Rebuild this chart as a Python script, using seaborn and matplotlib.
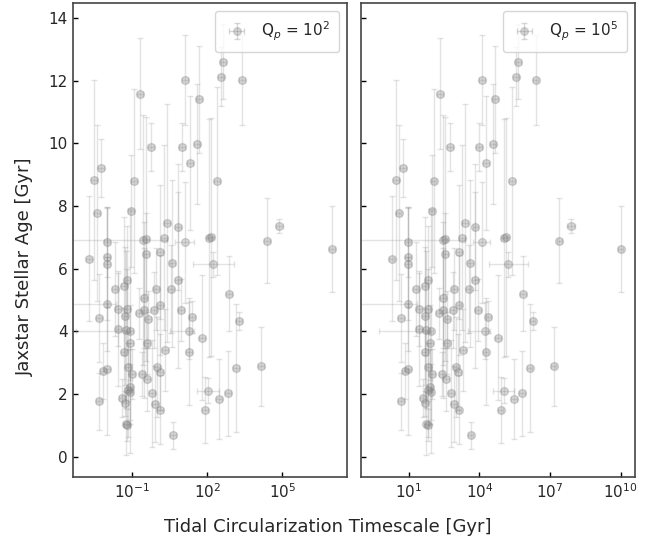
import numpy as np
import pandas as pd
import matplotlib
matplotlib.use("Agg")
import matplotlib.pyplot as plt
from matplotlib.ticker import NullLocator, FixedLocator
import seaborn as sns

# ---------------- data ----------------
panel_labels = [r"Q$_p$ = 10$^2$", r"Q$_p$ = 10$^5$"]

# log10 of tidal circularization timescale [Gyr] for Qp = 1e2
log_tau_q2 = [-2.74, -2.56, -2.44, -2.25, -2.04, -2.04, -2.04, -1.04, -0.95, -0.68,
              -0.57, -0.46, -0.45, -0.26, 0.12, 0.26, 0.38, 0.59, 0.83, 0.98,
              1.09, 1.11, 1.29, 1.58, 1.66, 2.05, 2.13, 2.22, 2.39, 2.54,
              2.64, 3.39, 4.40, 4.89, 7.00, -1.72, -1.32, -1.20, -2.04, -2.34,
              -1.58, -1.31, -1.20, -1.56, -1.27, -1.08, -1.11, -1.33, -1.17, -1.01,
              -2.18, -2.04, -2.34, -1.40, -1.31, -1.10, -1.08, -1.17, -1.26, -1.20,
              -0.72, -0.54, -0.53, -0.36, -0.40, -0.61, -0.42, -0.22, -0.07, -0.12,
              0.11, -0.01, 0.09, -0.09, 0.11, 0.31, 0.54, 0.82, 0.95, 0.62,
              1.25, 1.26, 1.38, 1.79, 1.90, 2.03, 2.48, 2.82, 2.85, 3.13,
              3.26, 4.15]

# log10 of tidal circularization timescale [Gyr] for Qp = 1e5
log_tau_q5 = [0.26, 0.44, 0.56, 0.75, 0.96, 0.96, 0.96, 1.96, 2.05, 2.32,
              2.43, 2.54, 2.55, 2.74, 3.12, 3.26, 3.38, 3.59, 3.83, 3.98,
              4.09, 4.11, 4.29, 4.58, 4.66, 5.05, 5.13, 5.22, 5.39, 5.54,
              5.64, 6.39, 7.40, 7.89, 10.00, 1.28, 1.68, 1.80, 0.96, 0.66,
              1.42, 1.69, 1.80, 1.44, 1.73, 1.92, 1.89, 1.67, 1.83, 1.99,
              0.82, 0.96, 0.66, 1.60, 1.69, 1.90, 1.92, 1.83, 1.74, 1.80,
              2.28, 2.46, 2.47, 2.64, 2.60, 2.39, 2.58, 2.78, 2.93, 2.88,
              3.11, 2.99, 3.09, 2.91, 3.11, 3.31, 3.54, 3.82, 3.95, 3.62,
              4.25, 4.26, 4.38, 4.79, 4.90, 5.03, 5.48, 5.82, 5.85, 6.13,
              6.26, 7.15]

# stellar age [Gyr] and its uncertainty
age = [6.32, 8.83, 7.78, 9.22, 6.85, 6.38, 6.15, 7.84, 8.79, 11.58,
       6.91, 6.94, 6.48, 9.89, 6.52, 6.99, 7.47, 6.17, 7.33, 9.89,
       6.84, 12.02, 9.36, 9.98, 11.41, 6.99, 7.02, 6.14, 8.79, 12.13,
       12.60, 12.02, 6.89, 7.36, 6.64, 5.34, 5.45, 5.65, 4.87, 4.43,
       4.72, 4.50, 4.70, 4.06, 4.05, 4.01, 3.64, 3.35, 2.87, 2.64,
       2.74, 2.80, 1.76, 1.88, 1.70, 2.23, 2.07, 2.12, 1.05, 1.01,
       4.57, 5.07, 4.68, 4.38, 3.63, 2.65, 2.47, 2.02, 5.35, 4.68,
       4.84, 2.85, 2.70, 1.68, 1.50, 3.40, 5.35, 5.64, 4.68, 0.68,
       4.02, 3.35, 4.46, 3.80, 1.48, 2.11, 1.83, 2.02, 5.20, 2.82,
       4.33, 2.88]

age_err = [2.0, 3.2, 2.8, 0.92, 1.12, 1.6, 1.8, 1.8, 2.93, 1.77,
           4.0, 3.9, 1.3, 0.77, 2.14, 2.96, 3.8, 2.66, 2.0, 0.76,
           1.94, 1.44, 2.14, 1.93, 1.71, 3.8, 3.8, 0.4, 3.0, 0.95,
           1.2, 1.43, 1.35, 0.21, 1.37, 1.5, 2.2, 1.7, 1.5, 1.4,
           1.2, 2.2, 1.3, 1.8, 2.5, 3.9, 1.2, 1.4, 1.1, 0.8,
           0.9, 2.1, 0.9, 0.6, 0.4, 1.2, 0.9, 1.5, 1.0, 0.5,
           0.8, 1.6, 2.8, 0.9, 1.0, 0.7, 1.0, 1.7, 1.3, 1.2,
           1.6, 1.6, 1.2, 1.2, 1.1, 1.3, 1.4, 2.8, 1.0, 0.44,
           0.9, 1.7, 0.5, 2.0, 1.06, 0.4, 1.28, 1.36, 1.2, 2.05,
           0.3, 1.27]

# timescale uncertainty (in dex, lower / upper)
tau_err_lo_dex = [0.12] * 92
tau_err_hi_dex = [0.12] * 92
for i, lo, hi in [(10, 12.0, 0.95), (20, 0.38, 0.36), (27, 0.80, 0.83),
                  (33, 0.16, 0.16), (38, 12.0, 0.38), (45, 2.2, 0.10),
                  (80, 0.75, 0.20), (85, 0.45, 0.42)]:
    tau_err_lo_dex[i] = lo
    tau_err_hi_dex[i] = hi

xlims = [(10 ** -3.39, 10 ** 7.59), (10 ** -1.055, 10 ** 10.6)]
xticks = [[1e-1, 1e2, 1e5], [1e1, 1e4, 1e7, 1e10]]

# ---------------- style ----------------
sns.set_style("white")
plt.rcParams["font.family"] = ["DejaVu Sans"]
plt.rcParams["mathtext.fontset"] = "dejavusans"

fig, axes = plt.subplots(1, 2, figsize=(6.56, 5.45), dpi=100, sharey=True)
fig.subplots_adjust(left=0.111, right=0.9675, top=0.9945, bottom=0.1248, wspace=0.05)

mcol = "gray"
for ax, logtau, lab, xl, xt in zip(axes, [log_tau_q2, log_tau_q5], panel_labels, xlims, xticks):
    lt = np.array(logtau)
    tau = 10 ** lt
    lo = tau - 10 ** (lt - np.array(tau_err_lo_dex))
    hi = 10 ** (lt + np.array(tau_err_hi_dex)) - tau
    df = pd.DataFrame({"tau": tau, "age": age})
    ax.set_xscale("log")
    ax.errorbar(tau, age, xerr=[lo, hi], yerr=age_err, fmt="none",
                ecolor=mcol, alpha=0.22, elinewidth=1.0, capsize=2.5, capthick=1.0, zorder=2)
    sns.scatterplot(data=df, x="tau", y="age", ax=ax, color=mcol, alpha=0.3,
                    s=32, edgecolor=mcol, linewidth=1.0, legend=False, zorder=3)
    # legend proxy
    ax.errorbar([np.nan], [np.nan], xerr=[[1], [1]], yerr=[[1], [1]], fmt="o",
                color=mcol, alpha=0.3, ms=5.5, capsize=2.5, elinewidth=1.0, label=lab)
    ax.legend(loc="upper right", fontsize=11, frameon=True, handlelength=1.6,
              borderpad=0.6, framealpha=0.8, edgecolor="#cccccc")
    ax.set_xlim(*xl)
    ax.set_ylim(-0.65, 14.48)
    ax.xaxis.set_major_locator(FixedLocator(xt))
    ax.xaxis.set_minor_locator(NullLocator())
    ax.set_yticks([0, 2, 4, 6, 8, 10, 12, 14])
    ax.tick_params(axis="both", direction="in", length=3.5, width=1, labelsize=11,
                   bottom=True, left=True, top=False, right=False, color="black")
    ax.set_xlabel("")
    ax.set_ylabel("")
    for sp in ax.spines.values():
        sp.set_color("#444444")
        sp.set_linewidth(1.2)

fig.text(0.5, 0.033, "Tidal Circularization Timescale [Gyr]", ha="center", va="center", fontsize=13)
fig.text(0.038, 0.51, "Jaxstar Stellar Age [Gyr]", ha="center", va="center", rotation=90, fontsize=13)

fig.savefig("out.png", dpi=100)
